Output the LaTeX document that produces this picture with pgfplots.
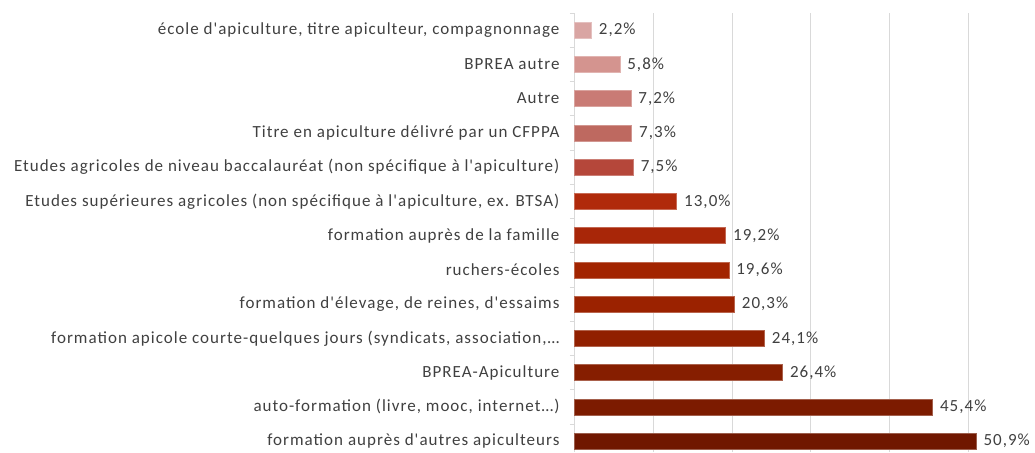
\documentclass[border=0pt]{standalone}
\usepackage{pgfplots}
\pgfplotsset{compat=1.18}
\usepackage{fontspec}
\newfontfamily\carl{Carlito}[LetterSpace=6]
\definecolor{c1}{HTML}{D9A5A3}
\definecolor{c2}{HTML}{D4948F}
\definecolor{c3}{HTML}{C97B75}
\definecolor{c4}{HTML}{BE6960}
\definecolor{c5}{HTML}{B5473A}
\definecolor{c6}{HTML}{B02A0B}
\definecolor{c7}{HTML}{A82608}
\definecolor{c8}{HTML}{A22400}
\definecolor{c9}{HTML}{9B2200}
\definecolor{c10}{HTML}{912000}
\definecolor{c11}{HTML}{861E00}
\definecolor{c12}{HTML}{7C1B00}
\definecolor{c13}{HTML}{701700}
\definecolor{txt}{HTML}{404040}
\definecolor{grd}{HTML}{D9D9D9}
\begin{document}
\begin{tikzpicture}[font=\carl\fontsize{17}{19}\selectfont]
\begin{axis}[
  scale only axis,
  width=458pt, height=439pt,
  xmin=0, xmax=58, ymin=-0.32, ymax=12.5,
  xbar, bar width=16pt, bar shift=0pt,
  axis lines*=left,
  x axis line style={draw=none},
  y axis line style={grd, line width=0.8pt},
  xmajorgrids, grid style={grd, line width=0.8pt},
  xtick={10,20,30,40,50},
  xticklabels={},
  ytick={0,...,12},
  major tick length=0pt,
  minor ytick={-0.5,0.5,...,12.5},
  minor tick length=4pt,
  tick align=outside,
  minor tick style={grd, line width=0.8pt},
  yticklabels={
    formation auprès d'autres apiculteurs,
    {auto-formation (livre, mooc, internet…)},
    BPREA-Apiculture,
    {formation apicole courte-quelques jours (syndicats, association,…},
    {formation d'élevage, de reines, d'essaims},
    ruchers-écoles,
    formation auprès de la famille,
    {Etudes supérieures agricoles (non spécifique à l'apiculture, ex. BTSA)},
    Etudes agricoles de niveau baccalauréat (non spécifique à l'apiculture),
    Titre en apiculture délivré par un CFPPA,
    Autre,
    BPREA autre,
    {école d'apiculture, titre apiculteur, compagnonnage}
  },
  yticklabel style={text=txt, xshift=-11pt},
  point meta=explicit symbolic,
  nodes near coords,
  nodes near coords style={text=txt, anchor=west, xshift=4pt},
  clip=false,
]
\addplot[fill=c13, draw=c13!70!white, line width=0.5pt] coordinates {(50.9,0) [50,9\%]};
\addplot[fill=c12, draw=c12!70!white, line width=0.5pt] coordinates {(45.4,1) [45,4\%]};
\addplot[fill=c11, draw=c11!70!white, line width=0.5pt] coordinates {(26.4,2) [26,4\%]};
\addplot[fill=c10, draw=c10!70!white, line width=0.5pt] coordinates {(24.1,3) [24,1\%]};
\addplot[fill=c9, draw=c9!70!white, line width=0.5pt] coordinates {(20.3,4) [20,3\%]};
\addplot[fill=c8, draw=c8!70!white, line width=0.5pt] coordinates {(19.6,5) [19,6\%]};
\addplot[fill=c7, draw=c7!70!white, line width=0.5pt] coordinates {(19.2,6) [19,2\%]};
\addplot[fill=c6, draw=c6!70!white, line width=0.5pt] coordinates {(13.0,7) [13,0\%]};
\addplot[fill=c5, draw=c5!70!white, line width=0.5pt] coordinates {(7.5,8) [7,5\%]};
\addplot[fill=c4, draw=c4!70!white, line width=0.5pt] coordinates {(7.3,9) [7,3\%]};
\addplot[fill=c3, draw=c3!70!white, line width=0.5pt] coordinates {(7.2,10) [7,2\%]};
\addplot[fill=c2, draw=c2!70!white, line width=0.5pt] coordinates {(5.8,11) [5,8\%]};
\addplot[fill=c1, draw=c1!70!white, line width=0.5pt] coordinates {(2.2,12) [2,2\%]};
\end{axis}
\pgfresetboundingbox
\path (current axis.south west) ++(-574pt,0pt) rectangle ++(1035pt,452pt);
\end{tikzpicture}
\end{document}
